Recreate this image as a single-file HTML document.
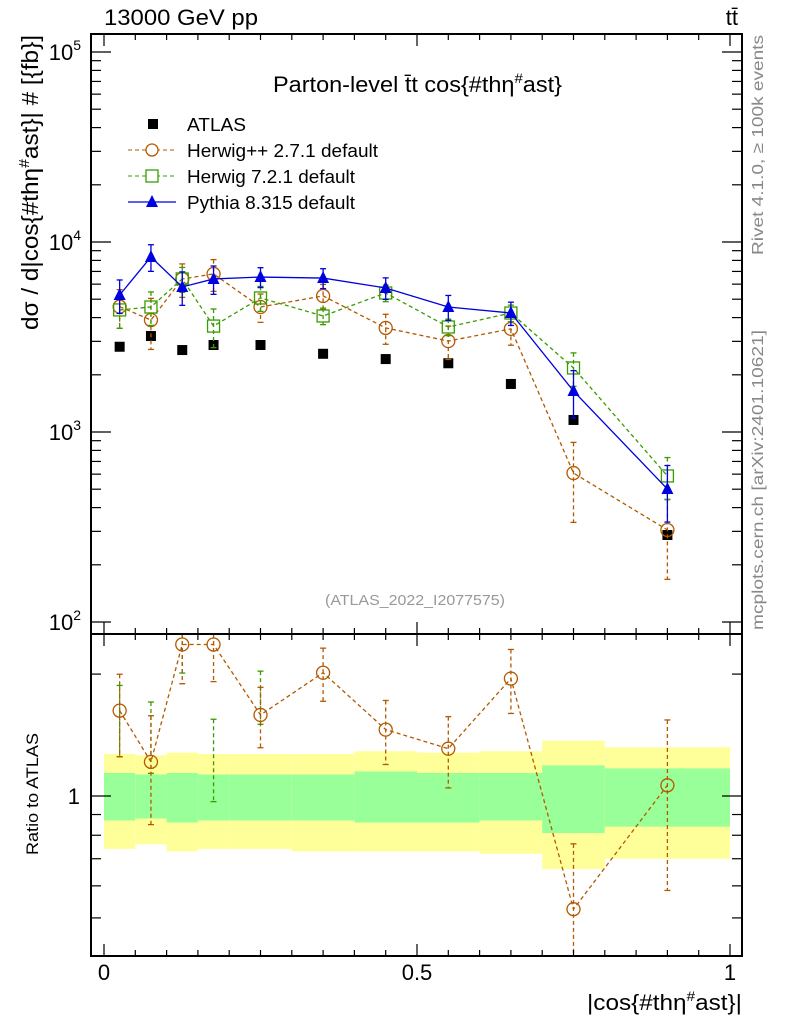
<!DOCTYPE html>
<html><head><meta charset="utf-8"><style>
body{margin:0;background:#fff}
svg text{font-family:"Liberation Sans",sans-serif}
</style></head><body>
<svg id="c" width="786" height="1024" xmlns="http://www.w3.org/2000/svg">
<rect width="786" height="1024" fill="#fff"/>
<g id="bands"></g>
<g id="marks"></g>
<g id="axes"></g>
<text x="104" y="25" font-size="22" textLength="154" lengthAdjust="spacingAndGlyphs">13000 GeV pp</text>
<text x="738" y="25" font-size="22" text-anchor="end">tt̄</text>
<text x="273" y="92" font-size="22" textLength="289" lengthAdjust="spacingAndGlyphs">Parton-level t̄t cos{#thη<tspan font-size="14" dy="-9">#</tspan><tspan dy="9">ast}</tspan></text>
<text x="325" y="605" font-size="15" fill="#999" textLength="180" lengthAdjust="spacingAndGlyphs">(ATLAS_2022_I2077575)</text>
<text transform="translate(763,255) rotate(-90)" font-size="16" fill="#888" textLength="220" lengthAdjust="spacingAndGlyphs">Rivet 4.1.0, ≥ 100k events</text>
<text transform="translate(763,630) rotate(-90)" font-size="16" fill="#888" textLength="300" lengthAdjust="spacingAndGlyphs">mcplots.cern.ch [arXiv:2401.10621]</text>
<text transform="translate(38,330) rotate(-90)" font-size="23" textLength="295" lengthAdjust="spacingAndGlyphs">dσ / d|cos{#thη<tspan font-size="15" dy="-9">#</tspan><tspan dy="9">ast}| # [{fb}]</tspan></text>
<text transform="translate(38,855) rotate(-90)" font-size="17" textLength="122" lengthAdjust="spacingAndGlyphs">Ratio to ATLAS</text>
<text x="587" y="1010" font-size="22" textLength="155" lengthAdjust="spacingAndGlyphs">|cos{#thη<tspan font-size="14" dy="-9">#</tspan><tspan dy="9">ast}|</tspan></text>
<g>
<rect x="148" y="119" width="10" height="10" fill="#000"/>
<text x="187" y="131" font-size="18" textLength="59" lengthAdjust="spacingAndGlyphs">ATLAS</text>
<line x1="128" y1="150" x2="176" y2="150" stroke="#b35900" stroke-dasharray="4,3"/>
<circle cx="152" cy="150" r="6" fill="#fff" stroke="#b35900" stroke-width="1.3"/>
<text x="187" y="157" font-size="18" textLength="191" lengthAdjust="spacingAndGlyphs">Herwig++ 2.7.1 default</text>
<line x1="128" y1="176" x2="176" y2="176" stroke="#3a9c00" stroke-dasharray="4,3"/>
<rect x="146" y="170" width="12" height="12" fill="#fff" stroke="#3a9c00" stroke-width="1.3"/>
<text x="187" y="183" font-size="18" textLength="168" lengthAdjust="spacingAndGlyphs">Herwig 7.2.1 default</text>
<line x1="128" y1="202" x2="176" y2="202" stroke="#0000e0" stroke-width="1.3"/>
<path d="M152,195 L158,207 L146,207Z" fill="#0000e0"/>
<text x="187" y="209" font-size="18" textLength="168" lengthAdjust="spacingAndGlyphs">Pythia 8.315 default</text>
</g>
</svg>
<script>
const xCenters=[0.025,0.075,0.125,0.175,0.25,0.35,0.45,0.55,0.65,0.75,0.9];
const binEdges=[0,0.05,0.1,0.15,0.2,0.3,0.4,0.5,0.6,0.7,0.8,1.0];
const atlas=[2810,3200,2700,2870,2870,2580,2420,2300,1790,1157,287];
const herwigpp=[4565,3885,6390,6790,4550,5200,3530,3010,3490,608,305];
const herwigppErr=[0.23,0.3,0.2,0.19,0.17,0.15,0.18,0.2,0.18,0.45,0.45];
const herwig7=[4390,4550,6390,3610,5075,4080,5390,3570,4230,2173,587];
const herwig7Err=[0.2,0.2,0.15,0.23,0.15,0.1,0.1,0.1,0.1,0.2,0.25];
const herwig7RatioShown=[1,1,1,1,1,0,0,0,0,0,0];
const pythia=[5260,8340,5800,6390,6540,6460,5730,4550,4230,1643,501];
const pythiaErr=[0.2,0.16,0.2,0.17,0.12,0.12,0.13,0.15,0.14,0.28,0.33];
const yellowUp=[1.27,1.26,1.28,1.27,1.27,1.27,1.29,1.28,1.29,1.37,1.32];
const greenUp=[1.14,1.13,1.14,1.13,1.13,1.13,1.15,1.14,1.14,1.19,1.17];
const greenDn=[0.87,0.88,0.86,0.87,0.87,0.87,0.86,0.86,0.87,0.81,0.84];
const yellowDn=[0.74,0.76,0.73,0.74,0.74,0.73,0.73,0.73,0.72,0.66,0.70];
const xTickLabels=["0","0.5","1"];
const mainTickLabels=["10","10","10","10"];
const mainTickExps=["2","3","4","5"];

const NS="http://www.w3.org/2000/svg";
const L=91,R=742,T=34,M=634,B=956;
const X=v=>104+v*626;
const Y=v=>622-(Math.log10(v)-2)*190;
const RY=r=>796-Math.log10(r)*405;
function mk(parent,tag,attrs){const e=document.createElementNS(NS,tag);for(const k in attrs)e.setAttribute(k,attrs[k]);document.getElementById(parent).appendChild(e);return e;}

for(let i=0;i<binEdges.length-1;i++){
  const x1=X(binEdges[i]),x2=X(binEdges[i+1]);
  let e=mk('bands','rect',{x:x1,y:RY(yellowUp[i]),width:x2-x1,height:RY(yellowDn[i])-RY(yellowUp[i]),fill:'#ffff99'});
  
  
  e=mk('bands','rect',{x:x1,y:RY(greenUp[i]),width:x2-x1,height:RY(greenDn[i])-RY(greenUp[i]),fill:'#99ff99'});
  
  
}
function clipY(y,top,bot){return Math.max(top,Math.min(bot,y));}
function errbar(x,y1,y2,col,dash,top,bot,w){
  const a=clipY(y1,top,bot),b=clipY(y2,top,bot);
  let e=mk('marks','line',{x1:x,y1:a,x2:x,y2:b,stroke:col,'stroke-width':w||1.3,'stroke-dasharray':dash||''});
  
  
  [y1,y2].forEach(yy=>{if(yy>top&&yy<bot){const c=mk('marks','line',{x1:x-3,y1:yy,x2:x+3,y2:yy,stroke:col,'stroke-width':1.3});
    
    }});
}
function series(vals,errs,col,dash,marker,name,fy,top,bot,ratio,noMarker,shown){
  const pts=vals.map((v,i)=>[X(xCenters[i]),fy(ratio?v/atlas[i]:v)]);
  if(!noMarker){
    const pl=mk('marks','polyline',{points:pts.map(p=>p.join(',')).join(' '),fill:'none',stroke:col,'stroke-width':1.3,'stroke-dasharray':dash});
    
    
  }
  vals.forEach((v,i)=>{
    if(shown&&!shown[i])return;
    const c=ratio?v/atlas[i]:v;
    errbar(pts[i][0],fy(c*(1+errs[i])),fy(c*(1-errs[i])),col,dash,top,bot);
  });
  if(noMarker)return;
  pts.forEach(p=>{
    if(p[1]<top||p[1]>bot)return;
    let e;
    if(marker==='circle')e=mk('marks','circle',{cx:p[0],cy:p[1],r:6.5,fill:'none',stroke:col,'stroke-width':1.3});
    else if(marker==='square')e=mk('marks','rect',{x:p[0]-6,y:p[1]-6,width:12,height:12,fill:'none',stroke:col,'stroke-width':1.3});
    else e=mk('marks','path',{d:`M${p[0]},${p[1]-7} L${p[0]+6},${p[1]+5} L${p[0]-6},${p[1]+5}Z`,fill:col});
    
    
  });
}
atlas.forEach((v,i)=>{const e=mk('marks','rect',{x:X(xCenters[i])-5,y:Y(v)-5,width:10,height:10,fill:'#000'});
  
  });
series(herwigpp,herwigppErr,'#b35900','4,3','circle','herwigpp',Y,T,M);
series(herwig7,herwig7Err,'#3a9c00','4,3','square','herwig7',Y,T,M);
series(pythia,pythiaErr,'#0000e0','','triangle','pythia',Y,T,M);
series(herwig7,herwig7Err,'#3a9c00','4,3','square','herwig7-ratio',RY,M,B,true,true,herwig7RatioShown);
series(herwigpp,herwigppErr,'#b35900','4,3','circle','herwigpp-ratio',RY,M,B,true);

function ln(x1,y1,x2,y2,w){const e=mk('axes','line',{x1,y1,x2,y2,stroke:'#000','stroke-width':w||1.2});
  
  return e;}
let fr=mk('axes','rect',{x:L,y:T,width:R-L,height:B-T,fill:'none',stroke:'#000','stroke-width':2});


ln(L,M,R,M,2);
for(let k=0;k<=20;k++){const v=k*0.05,x=X(v),big=k%10===0,len=big?12:6;
  ln(x,T,x,T+len);ln(x,M-len,x,M+len);ln(x,B,x,B-len);}
xTickLabels.forEach((s,i)=>{const e=mk('axes','text',{x:X(i*0.5),y:980,'font-size':22,'text-anchor':'middle'});e.textContent=s;
  
  });
for(let d=2;d<=5;d++){for(let m=1;m<10;m++){const y=Y(m*Math.pow(10,d));if(y<T||y>M)continue;const len=m===1?20:10;ln(L,y,L+len,y);ln(R,y,R-len,y);}}
mainTickLabels.forEach((s,i)=>{const e=mk('axes','text',{x:81,y:Y(Math.pow(10,+mainTickExps[i]))+8,'font-size':22,'text-anchor':'end'});
  e.textContent=s;const t=document.createElementNS(NS,'tspan');t.setAttribute('font-size','14');t.setAttribute('dy','-10');t.textContent=mainTickExps[i];e.appendChild(t);
  
  });
[0.5,0.6,0.7,0.8,0.9,1,2].forEach(r=>{const y=RY(r);const len=r===1?20:10;ln(L,y,L+len,y);ln(R,y,R-len,y);});
let t1=mk('axes','text',{x:80,y:RY(1)+8,'font-size':22,'text-anchor':'end'});t1.textContent='1';


</script>
</body></html>
